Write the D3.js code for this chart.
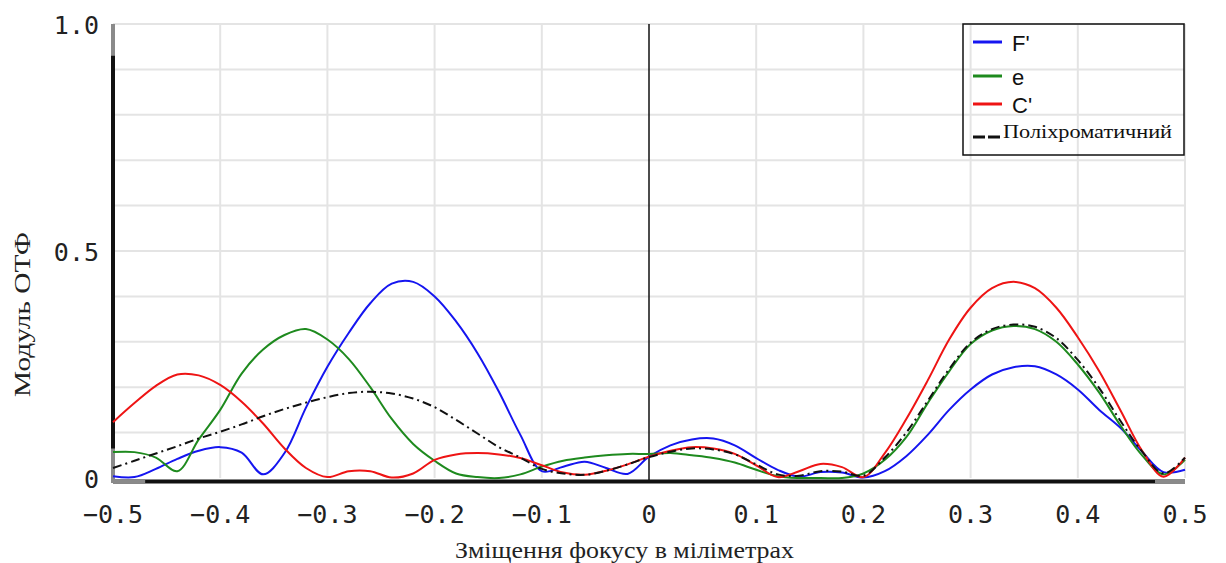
<!DOCTYPE html>
<html>
<head>
<meta charset="utf-8">
<script src="https://cdn.jsdelivr.net/npm/d3@7"></script>
<style>
  html, body { margin: 0; padding: 0; background: #fff; }
  svg { display: block; }
</style>
</head>
<body>
<svg id="chart" width="1226" height="563"></svg>
<script>
// Focus shift, mm (shared abscissa of all curves)
const shift = [-0.50,-0.48,-0.46,-0.44,-0.42,-0.40,-0.38,-0.36,-0.34,-0.32,-0.30,-0.28,-0.26,-0.24,-0.22,-0.20,-0.18,-0.16,-0.14,-0.12,-0.10,-0.08,-0.06,-0.04,-0.02,0.00,0.02,0.04,0.06,0.08,0.10,0.12,0.14,0.16,0.18,0.20,0.22,0.24,0.26,0.28,0.30,0.32,0.34,0.36,0.38,0.40,0.42,0.44,0.46,0.48,0.50];

// MTF modulus per wavelength
const mtfF = [0.004,0.002,0.020,0.042,0.060,0.068,0.056,0.008,0.055,0.155,0.245,0.320,0.385,0.428,0.432,0.400,0.345,0.275,0.190,0.095,0.015,0.025,0.036,0.022,0.009,0.047,0.072,0.085,0.087,0.072,0.044,0.018,0.003,0.013,0.012,0.001,0.015,0.048,0.095,0.150,0.195,0.228,0.244,0.246,0.228,0.195,0.150,0.110,0.058,0.013,0.018];
const mtfE = [0.057,0.057,0.045,0.015,0.085,0.150,0.230,0.283,0.315,0.328,0.305,0.262,0.200,0.130,0.075,0.038,0.010,0.002,0.000,0.008,0.025,0.038,0.045,0.050,0.053,0.053,0.055,0.050,0.044,0.034,0.018,0.004,0.000,0.000,0.000,0.010,0.040,0.090,0.165,0.235,0.295,0.325,0.335,0.328,0.300,0.250,0.188,0.115,0.050,0.008,0.040];
const mtfC = [0.123,0.165,0.203,0.228,0.226,0.205,0.168,0.120,0.065,0.022,0.002,0.015,0.015,0.001,0.010,0.040,0.052,0.055,0.052,0.044,0.028,0.012,0.007,0.016,0.030,0.047,0.060,0.068,0.065,0.053,0.028,0.002,0.015,0.031,0.024,0.002,0.055,0.130,0.215,0.305,0.375,0.418,0.432,0.418,0.375,0.310,0.235,0.148,0.060,0.003,0.045];
const mtfPoly = [0.022,0.038,0.054,0.070,0.087,0.102,0.118,0.136,0.152,0.166,0.178,0.187,0.190,0.186,0.175,0.156,0.128,0.098,0.068,0.045,0.020,0.010,0.007,0.016,0.030,0.046,0.058,0.065,0.063,0.052,0.030,0.008,0.005,0.015,0.014,0.005,0.045,0.100,0.170,0.240,0.298,0.328,0.338,0.333,0.308,0.260,0.198,0.125,0.058,0.010,0.045];

// Axis ticks
const xTicks = [-0.5,-0.4,-0.3,-0.2,-0.1,0,0.1,0.2,0.3,0.4,0.5];
const xTickLabels = ["\u22120.5","\u22120.4","\u22120.3","\u22120.2","\u22120.1","0","0.1","0.2","0.3","0.4","0.5"];
const yTicks = [0, 0.5, 1.0];
const yTickLabels = ["0","0.5","1.0"];
const yGrid = [0.1,0.2,0.3,0.4,0.5,0.6,0.7,0.8,0.9,1.0];

const seriesNames = ["F'", "e", "C'", "Поліхроматичний"];
const seriesColors = ["#1515f0", "#1e8a1e", "#ee1414", "#111"];

const svg = d3.select("#chart");
const plotL = 113, plotR = 1185, plotT = 24, plotB = 478;
const x = d3.scaleLinear().domain([-0.5, 0.5]).range([plotL, plotR]);
const y = d3.scaleLinear().domain([0, 1]).range([plotB, plotT]);
const serif = "'Liberation Serif', 'Times New Roman', serif";

// grid
const grid = svg.append("g").attr("stroke", "#e4e4e4").attr("stroke-width", 2);
grid.selectAll("line.v").data(xTicks.filter(d => d !== 0 && d !== -0.5)).join("line")
  .attr("class", "v")
  .attr("x1", d => x(d)).attr("x2", d => x(d)).attr("y1", y(1)).attr("y2", y(0));
grid.selectAll("line.h").data(yGrid).join("line")
  .attr("class", "h")
  .attr("x1", plotL).attr("x2", plotR).attr("y1", d => y(d)).attr("y2", d => y(d));

// zero-shift line
svg.append("line").attr("x1", x(0)).attr("x2", x(0)).attr("y1", y(1)).attr("y2", y(0) + 2)
  .attr("stroke", "#111").attr("stroke-width", 1.5);

// axes
const axisG = svg.append("g");
axisG.append("line").attr("x1", plotL).attr("x2", plotL).attr("y1", y(1)).attr("y2", y(0) + 5)
  .attr("stroke", "#111").attr("stroke-width", 4);
axisG.append("line").attr("x1", plotL).attr("x2", plotR).attr("y1", y(0) + 3.5).attr("y2", y(0) + 3.5)
  .attr("stroke", "#111").attr("stroke-width", 4);
// lighter end caps of the axis bars
axisG.append("line").attr("x1", plotL).attr("x2", plotL).attr("y1", y(1)).attr("y2", y(0.93))
  .attr("stroke", "#8a8a8a").attr("stroke-width", 4);
axisG.append("line").attr("x1", plotL).attr("x2", plotL).attr("y1", y(0.065)).attr("y2", y(0) + 5)
  .attr("stroke", "#8a8a8a").attr("stroke-width", 4);
axisG.append("line").attr("x1", plotL).attr("x2", x(-0.47)).attr("y1", y(0) + 3.5).attr("y2", y(0) + 3.5)
  .attr("stroke", "#8a8a8a").attr("stroke-width", 4);
axisG.append("line").attr("x1", x(0.472)).attr("x2", plotR).attr("y1", y(0) + 3.5).attr("y2", y(0) + 3.5)
  .attr("stroke", "#8a8a8a").attr("stroke-width", 4);

// tick labels
const tickFont = "'DejaVu Sans Mono', monospace";
svg.append("g").selectAll("text").data(xTicks).join("text")
  .attr("x", d => x(d)).attr("y", 523)
  .attr("text-anchor", "middle").attr("font-family", tickFont).attr("font-size", 25).attr("fill", "#222")
  .text((d, i) => xTickLabels[i]);
svg.append("g").selectAll("text").data(yTicks).join("text")
  .attr("x", 99).attr("y", d => y(d) + 10)
  .attr("text-anchor", "end").attr("font-family", tickFont).attr("font-size", 25).attr("fill", "#222")
  .text((d, i) => yTickLabels[i]);

// axis titles
svg.append("text").attr("x", 455).attr("y", 558)
  .attr("font-family", serif).attr("font-size", 23).attr("fill", "#222")
  .attr("textLength", 339).attr("lengthAdjust", "spacingAndGlyphs")
  .text("Зміщення фокусу в міліметрах");
svg.append("text").attr("transform", "translate(30,397) rotate(-90)")
  .attr("font-family", serif).attr("font-size", 23).attr("fill", "#222")
  .attr("textLength", 165).attr("lengthAdjust", "spacingAndGlyphs")
  .text("Модуль ОТФ");

// curves
const line = d3.line()
  .x((d, i) => x(shift[i]))
  .y(d => y(d))
  .curve(d3.curveCatmullRom.alpha(0.5));

const plot = svg.append("g");
[mtfF, mtfE, mtfC].forEach((vals, i) => {
  plot.append("path").datum(vals)
    .attr("d", line)
    .attr("fill", "none")
    .attr("stroke", seriesColors[i])
    .attr("stroke-width", 2);
});
plot.append("path").datum(mtfPoly).attr("d", line).attr("fill", "none")
  .attr("stroke", seriesColors[3]).attr("stroke-width", 2).attr("stroke-dasharray", "9,4,2,4");

// legend
const lg = svg.append("g");
lg.append("rect").attr("x", 963).attr("y", 24).attr("width", 221).attr("height", 131)
  .attr("fill", "none").attr("stroke", "#111").attr("stroke-width", 1.5);
const rowY = [42, 76, 104];
[0, 1, 2].forEach(i => {
  lg.append("line").attr("x1", 973).attr("x2", 1002).attr("y1", rowY[i]).attr("y2", rowY[i])
    .attr("stroke", seriesColors[i]).attr("stroke-width", 3);
  lg.append("text").attr("x", 1012).attr("y", rowY[i] + 9)
    .attr("font-family", "'Liberation Sans', Arial, sans-serif").attr("font-size", 22).attr("fill", "#111")
    .text(seriesNames[i]);
});
lg.append("line").attr("x1", 973).attr("x2", 1002).attr("y1", 137).attr("y2", 137)
  .attr("stroke", "#111").attr("stroke-width", 3).attr("stroke-dasharray", "12,3");
lg.append("text").attr("x", 1003).attr("y", 138)
  .attr("font-family", serif).attr("font-size", 19).attr("fill", "#111")
  .attr("textLength", 169).attr("lengthAdjust", "spacingAndGlyphs")
  .text(seriesNames[3]);
</script>
</body>
</html>
